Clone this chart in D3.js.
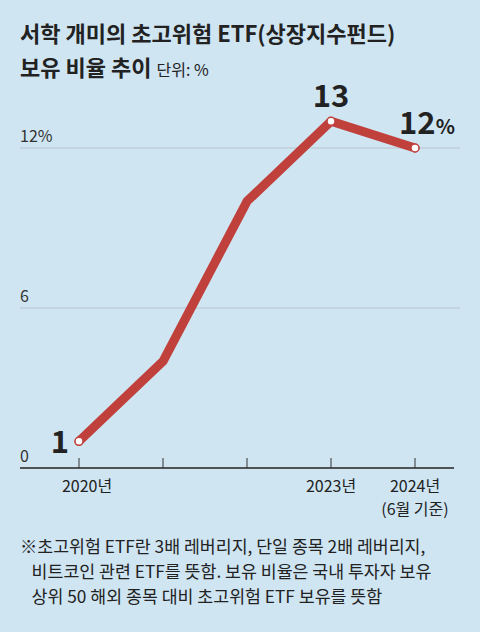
<!DOCTYPE html><html><head><meta charset="utf-8"><script src="https://cdn.jsdelivr.net/npm/d3@7"></script>
<style>body{margin:0;background:#cfe5f2}text{font-family:"Noto Sans CJK KR",sans-serif}</style></head><body><svg id="c" width="480" height="632"></svg><script>
const years=["2020","2021","2022","2023","2024"];
const values=[1,4,10,13,12];
const yTicks=[0,6,12];
const xLabels={"2020":["2020년"],"2023":["2023년"],"2024":["2024년","(6월 기준)"]};
const svg=d3.select("#c");
svg.append("rect").attr("width",480).attr("height",632).attr("fill","#cfe5f2");
svg.append("text").attr("x",20).attr("y",42).attr("font-size",22).attr("font-weight",700).attr("fill","#222").text("서학 개미의 초고위험 ETF(상장지수펀드)");
const t2=svg.append("text").attr("x",20).attr("y",76).attr("fill","#222");
t2.append("tspan").attr("font-size",22).attr("font-weight",700).text("보유 비율 추이 ");
t2.append("tspan").attr("font-size",16).text("단위: %");
const x=d3.scalePoint().domain(years).range([79,415]);
const y=d3.scaleLinear().domain([0,12]).range([468,148]);
const g=svg.append("g");
yTicks.filter(d=>d>0).forEach(d=>g.append("line").attr("x1",20).attr("x2",460).attr("y1",y(d)).attr("y2",y(d)).attr("stroke","#b9c4cc").attr("stroke-width",1));
yTicks.forEach(d=>g.append("text").attr("x",20).attr("y",y(d)-6).attr("font-size",16).attr("fill","#333").attr("font-family","Roboto").text(d===12?"12%":d));
g.append("line").attr("x1",20).attr("x2",454).attr("y1",468).attr("y2",468).attr("stroke","#222").attr("stroke-width",1.3);
years.forEach(d=>g.append("line").attr("x1",x(d)).attr("x2",x(d)).attr("y1",458).attr("y2",468).attr("stroke","#333"));
Object.entries(xLabels).forEach(([k,ls])=>ls.forEach((l,i)=>g.append("text").attr("x",x(k)+(k==="2020"?8:0)).attr("y",492+i*23).attr("text-anchor","middle").attr("font-size",16).attr("fill","#222").text(l)));
const line=d3.line().x((d,i)=>x(years[i])).y(d=>y(d));
g.append("path").attr("d",line(values)).attr("fill","none").attr("stroke","#c0403c").attr("stroke-width",9).attr("stroke-linejoin","round").attr("stroke-linecap","round");
[0,3,4].forEach(i=>g.append("circle").attr("cx",x(years[i])).attr("cy",y(values[i])).attr("r",4).attr("fill","#fff").attr("stroke","#c0403c").attr("stroke-width",1.5));
g.append("text").attr("x",x(years[0])-10).attr("y",y(values[0])+12).attr("text-anchor","end").attr("font-size",31).attr("font-weight",700).attr("fill","#222").text(values[0]);
g.append("text").attr("x",x(years[3])).attr("y",y(values[3])-14).attr("text-anchor","middle").attr("font-size",31).attr("font-weight",700).attr("fill","#222").text(values[3]);
const lt=g.append("text").attr("x",x(years[4])+12).attr("y",y(values[4])-14).attr("text-anchor","middle").attr("font-weight",700).attr("fill","#222");
lt.append("tspan").attr("font-size",31).text(values[4]);lt.append("tspan").attr("font-size",20).text("%");
["※초고위험 ETF란 3배 레버리지, 단일 종목 2배 레버리지,","   비트코인 관련 ETF를 뜻함. 보유 비율은 국내 투자자 보유","   상위 50 해외 종목 대비 초고위험 ETF 보유를 뜻함"].forEach((s,i)=>svg.append("text").attr("x",20).attr("y",553+i*25).attr("font-size",17.3).attr("fill","#222").attr("xml:space","preserve").text(s));
</script></body></html>
